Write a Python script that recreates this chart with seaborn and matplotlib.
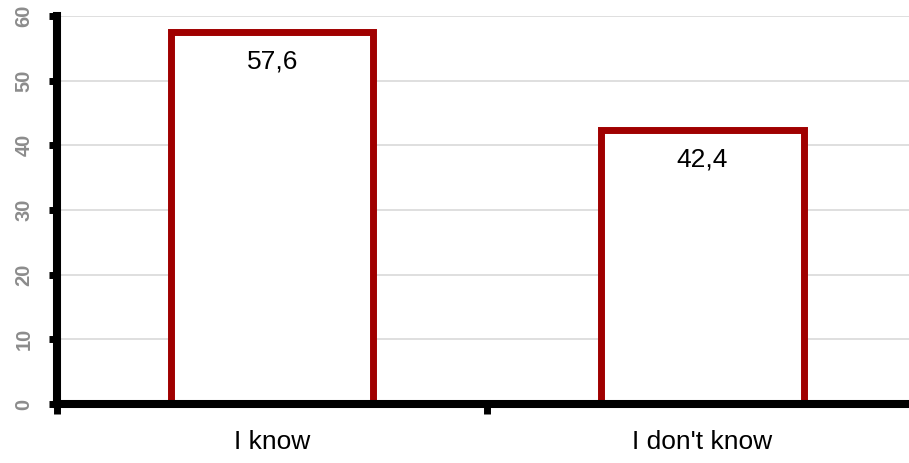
import seaborn as sns
import matplotlib.pyplot as plt
import pandas as pd
from matplotlib.ticker import FixedLocator

# Data
categories = ['I know', "I don't know"]
values = [57.6, 42.4]
value_labels = ['57,6', '42,4']

df = pd.DataFrame({'answer': categories, 'share': values})

sns.set_style('white')
fig = plt.figure(figsize=(9.09, 4.63), dpi=100)
ax = fig.add_axes([0.0627, 0.1274, 0.9373, 0.838])

sns.barplot(data=df, x='answer', y='share', color='white',
            edgecolor='#A00000', linewidth=5, width=0.47,
            saturation=1, ax=ax, zorder=2)

ax.set_ylim(0, 60)
ax.set_xlim(-0.5, 1.48)
ax.set_yticks(range(0, 61, 10))
ax.yaxis.grid(True, color='#D9D9D9', linewidth=1.2)
ax.set_axisbelow(True)

for sp in ['top', 'right']:
    ax.spines[sp].set_visible(False)
for sp in ['left', 'bottom']:
    ax.spines[sp].set_linewidth(5.8)
    ax.spines[sp].set_color('black')
    ax.spines[sp].set_zorder(5)

# value labels inside the bars, near the top
for i, (v, lab) in enumerate(zip(values, value_labels)):
    ax.text(i, v - 4.6, lab, ha='center', va='center', fontsize=19,
            family='Liberation Sans', color='black')

ax.set_xlabel('')
ax.set_ylabel('')
ax.tick_params(axis='x', which='major', bottom=False, length=0, pad=19,
               labelsize=19, labelcolor='black')
for t in ax.get_xticklabels():
    t.set_family('Liberation Sans')
ax.xaxis.set_minor_locator(FixedLocator([-0.5, 0.5]))
ax.tick_params(axis='x', which='minor', bottom=True, length=7, width=5,
               direction='out', color='black')
ax.tick_params(axis='y', left=True, length=6, width=5, direction='out', color='black',
               pad=11, labelsize=14.5, labelcolor='#8C8C8C')
for t in ax.get_yticklabels():
    t.set_rotation(90)
    t.set_fontweight('bold')
    t.set_family('Liberation Sans')
    t.set_va('center')

plt.savefig('out.png', dpi=100)
plt.close()
